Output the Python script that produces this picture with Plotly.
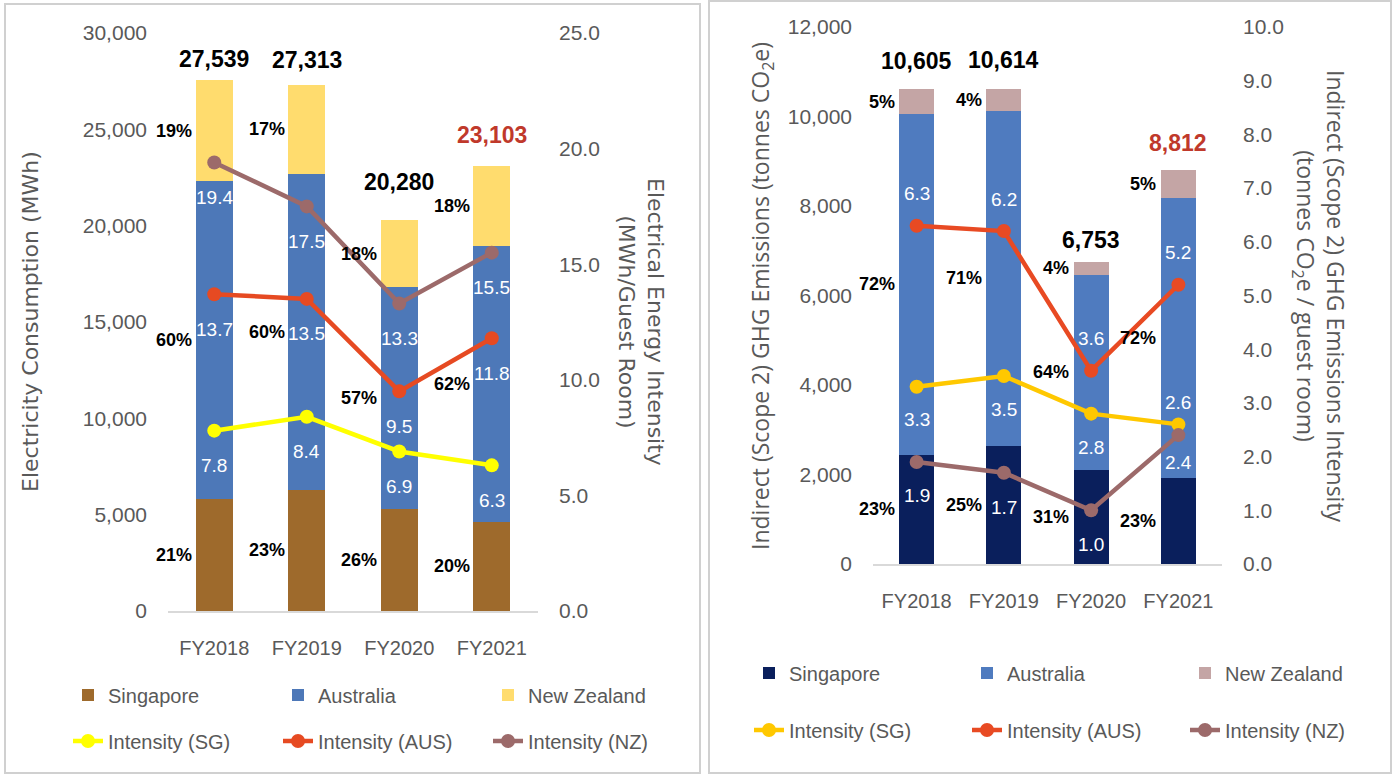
import plotly.graph_objects as go

years = ["FY2018", "FY2019", "FY2020", "FY2021"]

# left chart: electricity consumption (MWh) and intensity (MWh / guest room)
elec_sg = [5790, 6290, 5270, 4630]
elec_aus = [16520, 16390, 11560, 14320]
elec_nz = [5229, 4633, 3450, 4153]
elec_total = [27539, 27313, 20280, 23103]
elec_pct_sg = ["21%", "23%", "26%", "20%"]
elec_pct_aus = ["60%", "60%", "57%", "62%"]
elec_pct_nz = ["19%", "17%", "18%", "18%"]
elec_int_sg = [7.8, 8.4, 6.9, 6.3]
elec_int_aus = [13.7, 13.5, 9.5, 11.8]
elec_int_nz = [19.4, 17.5, 13.3, 15.5]

# right chart: scope 2 GHG emissions (tCO2e) and intensity (tCO2e / guest room)
ghg_sg = [2436, 2640, 2100, 1925]
ghg_aus = [7629, 7492, 4364, 6250]
ghg_nz = [540, 482, 289, 637]
ghg_total = [10605, 10614, 6753, 8812]
ghg_pct_sg = ["23%", "25%", "31%", "23%"]
ghg_pct_aus = ["72%", "71%", "64%", "72%"]
ghg_pct_nz = ["5%", "4%", "4%", "5%"]
ghg_int_sg = [3.3, 3.5, 2.8, 2.6]
ghg_int_aus = [6.3, 6.2, 3.6, 5.2]
ghg_int_nz = [1.9, 1.7, 1.0, 2.4]

W, H = 1397, 775
GREY = "#595959"
TXT = "Liberation Sans, Arial, sans-serif"
TITLE_LEFT = dict(family="DejaVu Sans, sans-serif", size=22, color=GREY)
TITLE_RIGHT = dict(family="Open Sans, DejaVu Sans, sans-serif", size=23, color=GREY)
RED_TOTAL = "#C0392B"

fig = go.Figure()


def add_panel(xa, ya, ya2, leg_bar, leg_line, sg, aus, nz, cols_bar, i_sg, i_aus, i_nz, cols_line):
    for name, vals, col in zip(["Singapore", "Australia", "New Zealand"], [sg, aus, nz], cols_bar):
        fig.add_trace(go.Bar(x=years, y=vals, name=name, marker=dict(color=col, line_width=0),
                             xaxis=xa, yaxis=ya, legend=leg_bar))
    for name, vals, col in zip(["Intensity (SG)", "Intensity (AUS)", "Intensity (NZ)"],
                               [i_sg, i_aus, i_nz], cols_line):
        fig.add_trace(go.Scatter(x=years, y=vals, name=name, mode="lines+markers",
                                 line=dict(color=col, width=4.5), marker=dict(color=col, size=14),
                                 xaxis=xa, yaxis=ya2, legend=leg_line))


add_panel("x", "y", "y2", "legend", "legend2", elec_sg, elec_aus, elec_nz,
          ["#9E6A2C", "#4D78B8", "#FFDC6E"], elec_int_sg, elec_int_aus, elec_int_nz,
          ["#FFFF00", "#E64A22", "#9C6A6A"])
add_panel("x2", "y3", "y4", "legend3", "legend4", ghg_sg, ghg_aus, ghg_nz,
          ["#0A1F5C", "#4F7BBF", "#C4A5A5"], ghg_int_sg, ghg_int_aus, ghg_int_nz,
          ["#FFC800", "#E84A23", "#9C6A6A"])

ann = []


def labels(xr, yr, yr2, sg, aus, nz, total, p_sg, p_aus, p_nz, ints, shifts, tot_shift):
    for i, yr_ in enumerate(years):
        mids = [sg[i] / 2, sg[i] + aus[i] / 2, sg[i] + aus[i] + nz[i] / 2]
        for m, p in zip(mids, [p_sg[i], p_aus[i], p_nz[i]]):
            ann.append(dict(x=yr_, y=m, xref=xr, yref=yr, text=p, showarrow=False,
                            xanchor="right", xshift=-20,
                            font=dict(family=TXT, size=18, color="black", weight="bold")))
        ann.append(dict(x=yr_, y=total[i], xref=xr, yref=yr, text=f"{total[i]:,}", showarrow=False,
                        yshift=tot_shift[i], font=dict(family=TXT, size=23, weight="bold",
                                                       color=RED_TOTAL if i == 3 else "black")))
        for vals, sh in zip(ints, shifts):
            ann.append(dict(x=yr_, y=vals[i], xref=xr, yref=yr2, text=f"{vals[i]:.1f}", showarrow=False,
                            yshift=sh[i], font=dict(family=TXT, size=19, color="white")))


labels("x", "y", "y2", elec_sg, elec_aus, elec_nz, elec_total, elec_pct_sg, elec_pct_aus, elec_pct_nz,
       [elec_int_sg, elec_int_aus, elec_int_nz], [[-35] * 4, [-35] * 4, [-35] * 4], [21, 25, 38, 31])
labels("x2", "y3", "y4", ghg_sg, ghg_aus, ghg_nz, ghg_total, ghg_pct_sg, ghg_pct_aus, ghg_pct_nz,
       [ghg_int_sg, ghg_int_aus, ghg_int_nz], [[-33, -33, -34, 22], [32] * 4, [-34, -35, -34, -27]],
       [28, 29, 22, 27])

# axis titles
title = dict(xref="paper", yref="paper", showarrow=False, xanchor="center", yanchor="middle")
ann += [
    dict(title, x=30 / W, y=1 - 322 / H, text="Electricity Consumption (MWh)",
         textangle=-90, font=TITLE_LEFT),
    dict(title, x=641 / W, y=1 - 322 / H, text="Electrical Energy Intensity<br>(MWh/Guest Room)",
         textangle=90, font=TITLE_LEFT),
    dict(title, x=761 / W, y=1 - 296 / H,
         text="Indirect (Scope 2) GHG Emissions (tonnes CO<sub>2</sub>e)",
         textangle=-90, font=TITLE_RIGHT),
    dict(title, x=1320 / W, y=1 - 296 / H,
         text="Indirect (Scope 2) GHG Emissions Intensity<br>(tonnes CO<sub>2</sub>e / guest room)",
         textangle=90, font=TITLE_RIGHT),
]

tickfont = dict(family=TXT, size=21, color=GREY)
xa = dict(type="category", range=[-0.5, 3.5], showline=True, linecolor="#D9D9D9", linewidth=2,
          showgrid=False, tickfont=dict(family=TXT, size=20, color=GREY), ticklabelstandoff=18,
          fixedrange=True)
ya = dict(showgrid=False, zeroline=False, tickfont=tickfont, ticklabelstandoff=20, fixedrange=True)

leg = dict(orientation="h", xanchor="left", yanchor="middle", font=dict(family=TXT, size=20, color=GREY),
           bgcolor="rgba(0,0,0,0)", itemclick=False, traceorder="normal")

fig.update_layout(
    width=W, height=H,
    margin=dict(l=0, r=0, t=0, b=0, autoexpand=False),
    paper_bgcolor="white", plot_bgcolor="white",
    barmode="stack", bargap=0.6,
    showlegend=True,
    xaxis=dict(xa, domain=[168 / W, 538 / W], anchor="y"),
    yaxis=dict(ya, domain=[1 - 611 / H, 1 - 33 / H], range=[0, 30000], dtick=5000, tickformat=",", anchor="x"),
    yaxis2=dict(ya, overlaying="y", side="right", range=[0, 25], dtick=5, tickformat=".1f", anchor="x"),
    xaxis2=dict(xa, domain=[873 / W, 1222 / W], anchor="y3"),
    yaxis3=dict(ya, domain=[1 - 564 / H, 1 - 27 / H], range=[0, 12000], dtick=2000, tickformat=",",
                anchor="x2"),
    yaxis4=dict(ya, overlaying="y3", side="right", range=[0, 10], dtick=1, tickformat=".1f", anchor="x2"),
    legend=dict(leg, x=68 / W, y=1 - 695 / H, entrywidth=165),
    legend2=dict(leg, x=68 / W, y=1 - 741 / H, entrywidth=165),
    legend3=dict(leg, x=749 / W, y=1 - 673 / H, entrywidth=173),
    legend4=dict(leg, x=749 / W, y=1 - 730 / H, entrywidth=173),
    annotations=ann,
    shapes=[
        dict(type="rect", xref="paper", yref="paper", x0=5 / W, x1=700 / W, y0=1 - 773 / H, y1=1 - 4 / H,
             line=dict(color="#D0D0D0", width=2)),
        dict(type="rect", xref="paper", yref="paper", x0=709 / W, x1=1391 / W, y0=1 - 773 / H, y1=1 - 1 / H,
             line=dict(color="#D0D0D0", width=2)),
    ],
)

# drop the default 8px page margin so the figure sits at the window origin
fig.write_html("out.html", config={"displayModeBar": False},
               post_script="document.body.style.margin='0';")
